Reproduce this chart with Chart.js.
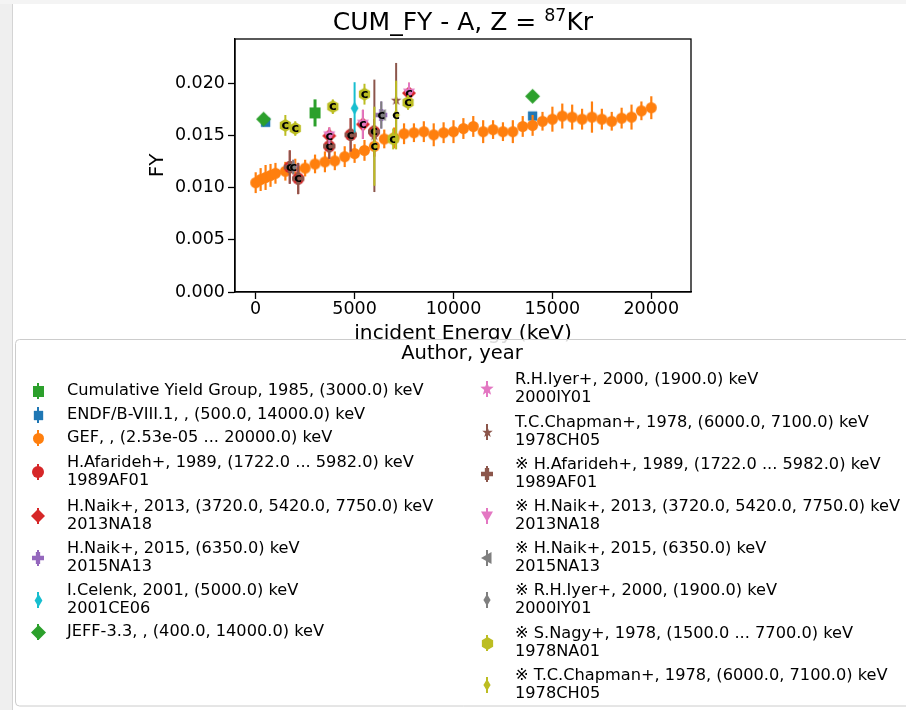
<!DOCTYPE html>
<html>
<head>
<meta charset="utf-8">
<script src="https://cdn.jsdelivr.net/npm/chart.js@4.4.1/dist/chart.umd.min.js"></script>
<style>
html,body{margin:0;padding:0;background:#fff;}
#wrap{position:relative;width:906px;height:710px;}
canvas{display:block;}
</style>
</head>
<body>
<div id="wrap"><canvas id="chart" width="906" height="710"></canvas></div>
<script>
// ---------------- DATA ----------------
const titleMain = 'CUM_FY - A, Z = ';
const titleSup = '87';
const titleEnd = 'Kr';
const xLabel = 'incident Energy (keV)';
const yLabel = 'FY';
const legendTitle = 'Author, year';
const xTickValues = [0, 5000, 10000, 15000, 20000];
const yTickValues = [0.000, 0.005, 0.010, 0.015, 0.020];

const seriesLabels = [
  'Cumulative Yield Group, 1985, (3000.0) keV',
  'ENDF/B-VIII.1, , (500.0, 14000.0) keV',
  'GEF, , (2.53e-05 ... 20000.0) keV',
  'H.Afarideh+, 1989, (1722.0 ... 5982.0) keV\n1989AF01',
  'H.Naik+, 2013, (3720.0, 5420.0, 7750.0) keV\n2013NA18',
  'H.Naik+, 2015, (6350.0) keV\n2015NA13',
  'I.Celenk, 2001, (5000.0) keV\n2001CE06',
  'JEFF-3.3, , (400.0, 14000.0) keV',
  'R.H.Iyer+, 2000, (1900.0) keV\n2000IY01',
  'T.C.Chapman+, 1978, (6000.0, 7100.0) keV\n1978CH05',
  '\u203B H.Afarideh+, 1989, (1722.0 ... 5982.0) keV\n1989AF01',
  '\u203B H.Naik+, 2013, (3720.0, 5420.0, 7750.0) keV\n2013NA18',
  '\u203B H.Naik+, 2015, (6350.0) keV\n2015NA13',
  '\u203B R.H.Iyer+, 2000, (1900.0) keV\n2000IY01',
  '\u203B S.Nagy+, 1978, (1500.0 ... 7700.0) keV\n1978NA01',
  '\u203B T.C.Chapman+, 1978, (6000.0, 7100.0) keV\n1978CH05'
];

const cumE = [3000];
const cumFY = [0.0172];
const cumErr = [0.0013];

const endfE = [500, 14000];
const endfFY = [0.0163, 0.0169];
const endfErr = [0.0002, 0.0002];

const gefE = [2.53e-5, 250, 500, 750, 1000, 1500, 2000, 2500, 3000, 3500, 4000, 4500, 5000, 5500,
  6000, 6500, 7000, 7500, 8000, 8500, 9000, 9500, 10000, 10500, 11000, 11500, 12000, 12500,
  13000, 13500, 14000, 14500, 15000, 15500, 16000, 16500, 17000, 17500, 18000, 18500, 19000,
  19500, 20000];
const gefFY = [0.0105, 0.0108, 0.0110, 0.0112, 0.0114, 0.0116, 0.0118, 0.0119, 0.0123, 0.0125,
  0.0126, 0.0130, 0.0133, 0.0136, 0.0140, 0.0147, 0.0148, 0.0152, 0.0153, 0.0154, 0.0151,
  0.0153, 0.0154, 0.0157, 0.0159, 0.0154, 0.0156, 0.0154, 0.0154, 0.0159, 0.0160, 0.0164,
  0.0166, 0.0169, 0.0168, 0.0166, 0.0168, 0.0166, 0.0164, 0.0167, 0.0168, 0.0174, 0.0177];
const gefErr = [0.0010, 0.0011, 0.0012, 0.0011, 0.0010, 0.0009, 0.0010, 0.0008, 0.0009, 0.0010,
  0.0009, 0.0010, 0.0009, 0.0010, 0.0010, 0.0009, 0.0010, 0.0010, 0.0009, 0.0010, 0.0011,
  0.0010, 0.0011, 0.0010, 0.0010, 0.0011, 0.0009, 0.0009, 0.0011, 0.0010, 0.0010, 0.0009,
  0.0012, 0.0012, 0.0012, 0.0010, 0.0015, 0.0010, 0.0009, 0.0010, 0.0012, 0.0009, 0.0011];

const afarE = [1722, 2150, 3720, 4800, 5982];
const afarFY = [0.0120, 0.0109, 0.0140, 0.0151, 0.0154];
const afarErr = [0.0016, 0.0015, 0.0012, 0.0016, 0.0012];

const naik13E = [3720, 5420, 7750];
const naik13FY = [0.0150, 0.0161, 0.0191];
const naik13Err = [0.0008, 0.0014, 0.0010];

const naik15E = [6350];
const naik15FY = [0.0170];
const naik15Err = [0.0013];

const celenkE = [5000];
const celenkFY = [0.01765];
const celenkErr = [0.0025];

const jeffE = [400, 14000];
const jeffFY = [0.0166, 0.0188];
const jeffErr = [0, 0];

const iyerE = [1900];
const iyerFY = [0.0120];
const iyerErr = [0.0007];

const chapE = [6000, 7100];
const chapFY = [0.0150, 0.0184];
const chapErr = [0.0054, 0.0036];

const nagyE = [1500, 2000, 3900, 5500, 6950, 7700];
const nagyFY = [0.0160, 0.0157, 0.0178, 0.0190, 0.0147, 0.0182];
const nagyErr = [0.0010, 0.0007, 0.0007, 0.0010, 0.0010, 0.0007];

const chapStarE = [6000, 7100];
const chapStarFY = [0.0140, 0.0170];
const chapStarErr = [0.0038, 0.0033];

// ---------------- STYLE ----------------
const FONT = '"DejaVu Sans", "Noto Sans", sans-serif';
const C_BLUE = '#1f77b4', C_ORANGE = '#ff7f0e', C_GREEN = '#2ca02c', C_RED = '#d62728',
      C_PURPLE = '#9467bd', C_BROWN = '#8c564b', C_PINK = '#e377c2', C_GREY = '#7f7f7f',
      C_OLIVE = '#bcbd22', C_CYAN = '#17becf';

function makeMarker(shape, color, s) {
  const w = Math.ceil(s) + 4;
  const c = document.createElement('canvas');
  c.width = w; c.height = w;
  const g = c.getContext('2d');
  g.fillStyle = color;
  g.translate(w / 2, w / 2);
  const r = s / 2;
  g.beginPath();
  if (shape === 'o') {
    g.arc(0, 0, r, 0, Math.PI * 2);
  } else if (shape === 's') {
    g.rect(-r * 0.85, -r * 0.85, r * 1.7, r * 1.7);
  } else if (shape === 'D') {
    g.moveTo(0, -r); g.lineTo(r, 0); g.lineTo(0, r); g.lineTo(-r, 0); g.closePath();
  } else if (shape === 'd') {
    g.moveTo(0, -r); g.lineTo(r * 0.6, 0); g.lineTo(0, r); g.lineTo(-r * 0.6, 0); g.closePath();
  } else if (shape === 'v') {
    g.moveTo(-r, -r * 0.75); g.lineTo(r, -r * 0.75); g.lineTo(0, r); g.closePath();
  } else if (shape === '<') {
    g.moveTo(-r, 0); g.lineTo(r * 0.75, -r); g.lineTo(r * 0.75, r); g.closePath();
  } else if (shape === 'P') {
    const a = r * 0.36;
    g.moveTo(-a, -r); g.lineTo(a, -r); g.lineTo(a, -a); g.lineTo(r, -a); g.lineTo(r, a);
    g.lineTo(a, a); g.lineTo(a, r); g.lineTo(-a, r); g.lineTo(-a, a); g.lineTo(-r, a);
    g.lineTo(-r, -a); g.lineTo(-a, -a); g.closePath();
  } else if (shape === '*') {
    for (let k = 0; k < 10; k++) {
      const ang = -Math.PI / 2 + k * Math.PI / 5;
      const rr = (k % 2 === 0) ? r : r * 0.42;
      const px = rr * Math.cos(ang), py = rr * Math.sin(ang);
      if (k === 0) g.moveTo(px, py); else g.lineTo(px, py);
    }
    g.closePath();
  } else if (shape === 'h') {
    for (let k = 0; k < 6; k++) {
      const ang = -Math.PI / 2 + k * Math.PI / 3;
      const px = r * Math.cos(ang), py = r * Math.sin(ang);
      if (k === 0) g.moveTo(px, py); else g.lineTo(px, py);
    }
    g.closePath();
  }
  g.fill();
  return c;
}

const specs = [
  {E: cumE, FY: cumFY, err: cumErr, color: C_GREEN, shape: 's', size: 13, bw: 3, cmark: false},
  {E: endfE, FY: endfFY, err: endfErr, color: C_BLUE, shape: 's', size: 11, bw: 2, cmark: false},
  {E: gefE, FY: gefFY, err: gefErr, color: C_ORANGE, shape: 'o', size: 11, bw: 2.2, cmark: false},
  {E: afarE, FY: afarFY, err: afarErr, color: C_RED, shape: 'o', size: 12, bw: 2, cmark: false},
  {E: naik13E, FY: naik13FY, err: naik13Err, color: C_RED, shape: 'D', size: 14, bw: 2, cmark: false},
  {E: naik15E, FY: naik15FY, err: naik15Err, color: C_PURPLE, shape: 'P', size: 12, bw: 2, cmark: false},
  {E: celenkE, FY: celenkFY, err: celenkErr, color: C_CYAN, shape: 'd', size: 13, bw: 2, cmark: false},
  {E: jeffE, FY: jeffFY, err: jeffErr, color: C_GREEN, shape: 'D', size: 15, bw: 2, cmark: false},
  {E: iyerE, FY: iyerFY, err: iyerErr, color: C_PINK, shape: '*', size: 14, bw: 2, cmark: false},
  {E: chapE, FY: chapFY, err: chapErr, color: C_BROWN, shape: '*', size: 11, bw: 2, cmark: false},
  {E: afarE, FY: afarFY, err: afarErr, color: C_BROWN, shape: 'P', size: 12, bw: 2, cmark: true},
  {E: naik13E, FY: naik13FY, err: naik13Err, color: C_PINK, shape: 'v', size: 12, bw: 2, cmark: true},
  {E: naik15E, FY: naik15FY, err: naik15Err, color: C_GREY, shape: '<', size: 12, bw: 2, cmark: true},
  {E: iyerE, FY: iyerFY, err: iyerErr, color: C_GREY, shape: 'd', size: 12, bw: 2, cmark: true},
  {E: nagyE, FY: nagyFY, err: nagyErr, color: C_OLIVE, shape: 'h', size: 13, bw: 2, cmark: true},
  {E: chapStarE, FY: chapStarFY, err: chapStarErr, color: C_OLIVE, shape: 'd', size: 12, bw: 2, cmark: true}
];

const datasets = specs.map((s, i) => ({
  label: seriesLabels[i],
  data: s.E.map((x, k) => ({x: x, y: s.FY[k]})),
  err: s.err,
  pointStyle: makeMarker(s.shape, s.color, s.size),
  pointRadius: 5,
  pointHoverRadius: 5,
  showLine: false,
  backgroundColor: s.color,
  borderColor: s.color,
  order: specs.length - i,
  errColor: s.color,
  errWidth: s.bw,
  cmark: s.cmark
}));

const decor = {
  id: 'decor',
  beforeDraw(chart) {
    const ctx = chart.ctx;
    ctx.save();
    ctx.fillStyle = '#ffffff';
    ctx.fillRect(0, 0, chart.width, chart.height);
    ctx.fillStyle = '#efefef';
    ctx.fillRect(0, 0, 12, chart.height);
    ctx.fillStyle = '#f4f4f4';
    ctx.fillRect(0, 0, chart.width, 4);
    ctx.strokeStyle = '#d4d4d4';
    ctx.lineWidth = 1;
    ctx.beginPath(); ctx.moveTo(12.5, 4); ctx.lineTo(12.5, chart.height); ctx.stroke();
    ctx.restore();
  },
  beforeDatasetDraw(chart, args) {
    const ds = chart.data.datasets[args.index];
    if (!ds.err) return;
    const ctx = chart.ctx, xs = chart.scales.x, ys = chart.scales.y, a = chart.chartArea;
    ctx.save();
    ctx.beginPath(); ctx.rect(a.left, a.top, a.right - a.left, a.bottom - a.top); ctx.clip();
    ctx.strokeStyle = ds.errColor;
    ctx.lineWidth = ds.errWidth;
    ds.data.forEach((p, i) => {
      const e = ds.err[i];
      if (!e) return;
      const px = xs.getPixelForValue(p.x);
      ctx.beginPath();
      ctx.moveTo(px, ys.getPixelForValue(p.y - e));
      ctx.lineTo(px, ys.getPixelForValue(p.y + e));
      ctx.stroke();
    });
    ctx.restore();
  },
  afterDatasetDraw(chart, args) {
    const ds = chart.data.datasets[args.index];
    if (!ds.cmark) return;
    const ctx = chart.ctx, xs = chart.scales.x, ys = chart.scales.y;
    ctx.save();
    ctx.fillStyle = '#000';
    ctx.font = 'bold 13px ' + FONT;
    ctx.textAlign = 'center';
    ctx.textBaseline = 'alphabetic';
    ds.data.forEach(p => {
      ctx.fillText('c', xs.getPixelForValue(p.x), ys.getPixelForValue(p.y) + 3.8);
    });
    ctx.restore();
  },
  afterDraw(chart) {
    const ctx = chart.ctx, a = chart.chartArea;
    ctx.save();
    // frame
    ctx.strokeStyle = '#000';
    ctx.lineWidth = 1.3;
    ctx.strokeRect(a.left, a.top, a.right - a.left, a.bottom - a.top);
    // title
    const fs = 25;
    ctx.fillStyle = '#000';
    ctx.textBaseline = 'alphabetic';
    ctx.textAlign = 'left';
    ctx.font = fs + 'px ' + FONT;
    const w1 = ctx.measureText(titleMain).width;
    const w3 = ctx.measureText(titleEnd).width;
    ctx.font = (fs * 0.7) + 'px ' + FONT;
    const w2 = ctx.measureText(titleSup).width;
    let x0 = (a.left + a.right) / 2 - (w1 + w2 + w3) / 2;
    const by = 30;
    ctx.font = fs + 'px ' + FONT;
    ctx.fillText(titleMain, x0, by);
    ctx.font = (fs * 0.7) + 'px ' + FONT;
    ctx.fillText(titleSup, x0 + w1, by - fs * 0.38);
    ctx.font = fs + 'px ' + FONT;
    ctx.fillText(titleEnd, x0 + w1 + w2, by);
    // legend box
    const bx = 15.5, bt = 339.5, bw = 1000, bh = 366.5, rad = 4;
    ctx.beginPath();
    ctx.moveTo(bx + rad, bt);
    ctx.lineTo(bx + bw, bt);
    ctx.lineTo(bx + bw, bt + bh);
    ctx.lineTo(bx + rad, bt + bh);
    ctx.arcTo(bx, bt + bh, bx, bt + bh - rad, rad);
    ctx.lineTo(bx, bt + rad);
    ctx.arcTo(bx, bt, bx + rad, bt, rad);
    ctx.closePath();
    ctx.fillStyle = 'rgba(255,255,255,0.85)';
    ctx.fill();
    ctx.strokeStyle = '#cccccc';
    ctx.lineWidth = 1;
    ctx.stroke();
    // legend title
    ctx.fillStyle = '#000';
    ctx.font = '19.5px ' + FONT;
    ctx.textAlign = 'center';
    ctx.textBaseline = 'middle';
    ctx.fillText(legendTitle, 462, 354);
    // entries
    const dss = chart.data.datasets;
    const cols = [
      {mx: 38, tx: 67, ys: [391, 415, 438, 472, 516, 558, 600, 632], start: 0},
      {mx: 487, tx: 515, ys: [389, 432, 474, 516, 558, 600, 643, 685], start: 8}
    ];
    cols.forEach(col => {
      col.ys.forEach((y, k) => {
        const ds = dss[col.start + k];
        ctx.strokeStyle = ds.errColor;
        ctx.lineWidth = 2;
        ctx.beginPath(); ctx.moveTo(col.mx, y - 8); ctx.lineTo(col.mx, y + 8); ctx.stroke();
        const img = ds.pointStyle;
        ctx.drawImage(img, Math.round(col.mx - img.width / 2), Math.round(y - img.height / 2));
        const lines = ds.label.split('\n');
        ctx.fillStyle = '#000';
        ctx.font = '16.2px ' + FONT;
        ctx.textAlign = 'left';
        ctx.textBaseline = 'middle';
        lines.forEach((t, j) => {
          ctx.fillText(t, col.tx, y + (j - (lines.length - 1) / 2) * 18.5);
        });
      });
    });
    ctx.restore();
  }
};

new Chart(document.getElementById('chart'), {
  type: 'scatter',
  data: {datasets: datasets},
  options: {
    responsive: false,
    animation: false,
    events: [],
    layout: {padding: {left: 146, top: 39, right: 215, bottom: 364}},
    plugins: {legend: {display: false}, title: {display: false}, tooltip: {enabled: false}},
    scales: {
      x: {
        type: 'linear', min: -1046, max: 22007,
        afterBuildTicks: s => { s.ticks = xTickValues.map(v => ({value: v})); },
        afterFit: s => { s.height = 54; },
        ticks: {callback: v => String(v), font: {size: 17.5, family: FONT}, color: '#000', padding: 0, maxRotation: 0, autoSkip: false},
        grid: {drawOnChartArea: false, drawTicks: true, tickLength: 7, color: '#000', tickWidth: 1.3},
        border: {display: true, color: '#000', width: 1.3},
        title: {display: true, text: xLabel, font: {size: 20.2, family: FONT}, color: '#000', padding: 0}
      },
      y: {
        type: 'linear', min: 0, max: 0.0243,
        afterBuildTicks: s => { s.ticks = yTickValues.map(v => ({value: v})); },
        afterFit: s => { s.width = 89; },
        ticks: {callback: v => Number(v).toFixed(3), font: {size: 17.5, family: FONT}, color: '#000', padding: 3, autoSkip: false},
        grid: {drawOnChartArea: false, drawTicks: true, tickLength: 7, color: '#000', tickWidth: 1.3},
        border: {display: true, color: '#000', width: 1.3},
        title: {display: true, text: yLabel, font: {size: 20, family: FONT}, color: '#000', padding: 0}
      }
    }
  },
  plugins: [decor]
});
</script>
</body>
</html>
